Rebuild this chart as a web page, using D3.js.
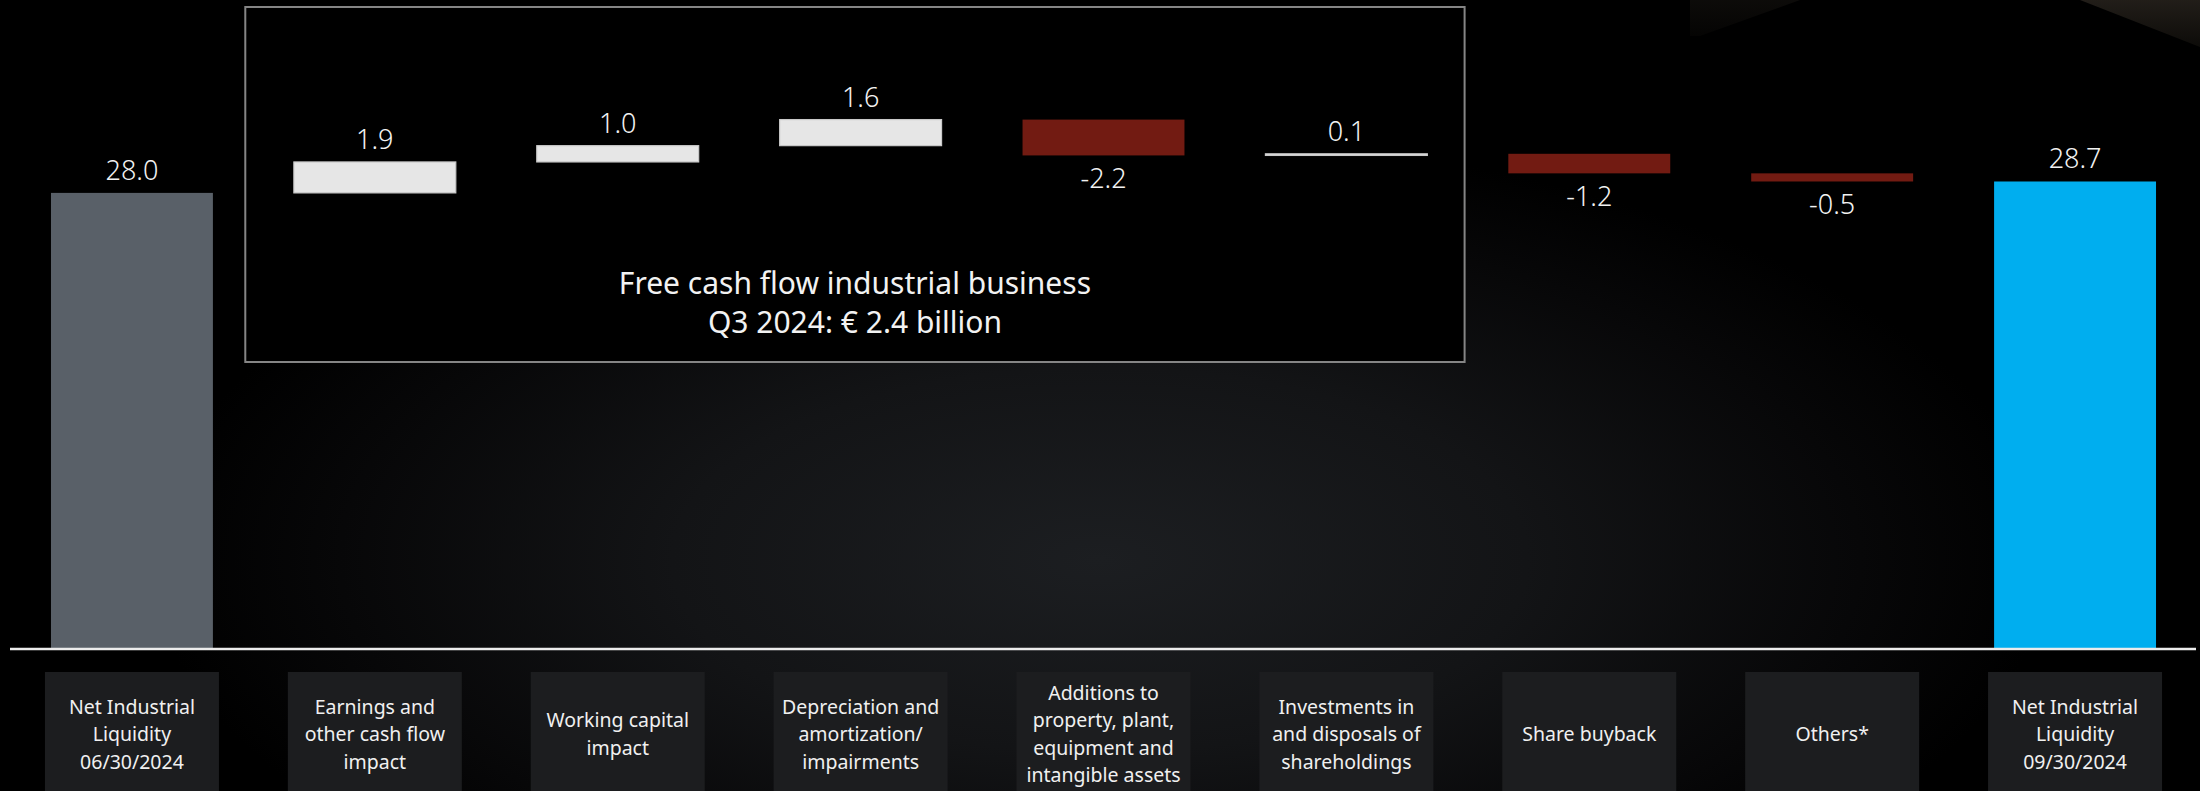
<!DOCTYPE html>
<html>
<head>
<meta charset="utf-8">
<script src="https://cdn.jsdelivr.net/npm/d3@7"></script>
<style>
  html, body { margin: 0; padding: 0; background: #000; }
  svg { display: block; }
</style>
</head>
<body>
<div id="chart"></div>
<script>
// Net industrial liquidity bridge, Q3 2024 (€ billion)
const categories = [
  ["Net Industrial", "Liquidity", "06/30/2024"],
  ["Earnings and", "other cash flow", "impact"],
  ["Working capital", "impact"],
  ["Depreciation and", "amortization/", "impairments"],
  ["Additions to", "property, plant,", "equipment and", "intangible assets"],
  ["Investments in", "and disposals of", "shareholdings"],
  ["Share buyback"],
  ["Others*"],
  ["Net Industrial", "Liquidity", "09/30/2024"]
];
const values = [28.0, 1.9, 1.0, 1.6, -2.2, 0.1, -1.2, -0.5, 28.7];
const kinds  = ["start", "delta", "delta", "delta", "delta", "delta", "delta", "delta", "end"];
const valueLabels = ["28.0", "1.9", "1.0", "1.6", "-2.2", "0.1", "-1.2", "-0.5", "28.7"];
const calloutLines = ["Free cash flow industrial business", "Q3 2024: € 2.4 billion"];
const calloutRange = [1, 5]; // first and last step covered by the free cash flow box

const W = 2200, H = 791;
const baseY = 649;

const svg = d3.select("#chart").append("svg")
  .attr("width", W).attr("height", H)
  .style("font-family", "'Noto Sans', 'Open Sans', sans-serif");

// backdrop: dark vignette with a soft glow towards the lower centre
const defs = svg.append("defs");
const glow = defs.append("radialGradient")
  .attr("id", "glow").attr("gradientUnits", "userSpaceOnUse")
  .attr("cx", 1100).attr("cy", 560).attr("r", 950)
  .attr("gradientTransform", "translate(1100,560) scale(1,0.45) translate(-1100,-560)");
glow.append("stop").attr("offset", "0%").attr("stop-color", "#1c1e21");
glow.append("stop").attr("offset", "45%").attr("stop-color", "#131416");
glow.append("stop").attr("offset", "80%").attr("stop-color", "#070708");
glow.append("stop").attr("offset", "100%").attr("stop-color", "#000");
svg.append("rect").attr("width", W).attr("height", H).attr("fill", "#000");
svg.append("rect").attr("width", W).attr("height", H).attr("fill", "url(#glow)");

const bronze = defs.append("linearGradient").attr("id", "bronze")
  .attr("x1", 0).attr("y1", 0).attr("x2", 0).attr("y2", 1);
bronze.append("stop").attr("offset", "0%").attr("stop-color", "#2a251f");
bronze.append("stop").attr("offset", "100%").attr("stop-color", "#100e0b");
svg.append("path").attr("d", "M1690,0 L1800,0 L1700,36 L1690,36 Z").attr("fill", "url(#bronze)").attr("opacity", 0.3);
svg.append("path").attr("d", "M2080,0 L2200,0 L2200,47 Z").attr("fill", "url(#bronze)").attr("opacity", 0.8);

// scales
const x = d3.scaleBand()
  .domain(d3.range(values.length))
  .range([10.5, 2196.5])
  .paddingInner(1 / 3)
  .paddingOuter(1 / 6);
const y = d3.scaleLinear().domain([0, 38]).range([baseY, 30]);

// waterfall steps
let running = 0;
const steps = values.map((v, i) => {
  let lo, hi;
  if (kinds[i] === "delta") {
    lo = Math.min(running, running + v);
    hi = Math.max(running, running + v);
    running += v;
  } else {
    lo = 0; hi = v; running = v;
  }
  return { i, v, lo, hi, kind: kinds[i], label: valueLabels[i] };
});

// free cash flow callout box
const cx0 = x(calloutRange[0]) - (x.step() - x.bandwidth()) * 0.6;
const cx1 = x(calloutRange[1]) + x.bandwidth() + (x.step() - x.bandwidth()) * 0.46;
svg.append("rect")
  .attr("x", cx0).attr("y", 7)
  .attr("width", cx1 - cx0).attr("height", 355)
  .attr("fill", "#000").attr("stroke", "#858585").attr("stroke-width", 2);
svg.append("g").selectAll("text").data(calloutLines).join("text")
  .attr("x", (cx0 + cx1) / 2)
  .attr("y", (d, k) => 294 + k * 39)
  .attr("text-anchor", "middle")
  .attr("fill", "#f2f2f2")
  .attr("font-size", 30)
  .text(d => d);

function barColor(s) {
  if (s.kind === "start") return "#596068";
  if (s.kind === "end") return "#00aeef";
  return s.v < 0 ? "#721b12" : "#e6e6e6";
}

svg.append("g").selectAll("rect").data(steps).join("rect")
  .attr("x", s => x(s.i))
  .attr("width", x.bandwidth())
  .attr("y", s => y(s.hi))
  .attr("height", s => Math.max(y(s.lo) - y(s.hi), 1))
  .attr("fill", barColor)
  .attr("stroke", s => (s.kind === "delta" && s.v > 0) ? "#c9c9c9" : "none")
  .attr("stroke-width", 1.2);

// value labels: above for increases and totals, below for decreases
svg.append("g").selectAll("text").data(steps).join("text")
  .attr("x", s => x(s.i) + x.bandwidth() / 2)
  .attr("y", s => s.v < 0 ? y(s.lo) + 33 : y(s.hi) - 13)
  .attr("text-anchor", "middle")
  .attr("fill", "#f2f2f2")
  .attr("font-size", 27)
  .attr("font-weight", 300)
  .text(s => s.label);

// baseline
svg.append("line")
  .attr("x1", 10).attr("x2", 2196)
  .attr("y1", baseY).attr("y2", baseY)
  .attr("stroke", "#ececec").attr("stroke-width", 2.5);

// category tiles
const tileW = 174, lineH = 27.5, tileMid = 734;
const tiles = svg.append("g").selectAll("g").data(categories).join("g")
  .attr("transform", (d, i) => `translate(${x(i) + x.bandwidth() / 2},0)`);
tiles.append("rect")
  .attr("x", -tileW / 2).attr("y", 672)
  .attr("width", tileW).attr("height", 130)
  .attr("fill", "#1c1d1f");
tiles.each(function (lines) {
  d3.select(this).selectAll("text").data(lines).join("text")
    .attr("x", 0)
    .attr("y", (d, k) => tileMid + 7 + (k - (lines.length - 1) / 2) * lineH)
    .attr("text-anchor", "middle")
    .attr("fill", "#f0f0f0")
    .attr("font-size", 19.5)
    .text(d => d);
});
</script>
</body>
</html>
